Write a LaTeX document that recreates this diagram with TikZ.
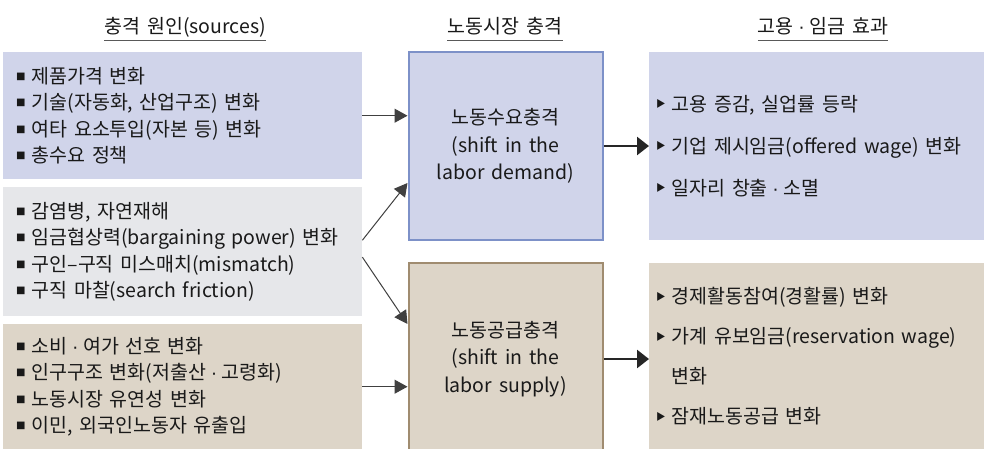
\documentclass[tikz,border=0pt]{standalone}
\usepackage{fontspec}
\setmainfont{Noto Sans CJK KR}[WordSpace=1.6]
\newfontfamily\latfont{Liberation Sans}
\usetikzlibrary{arrows.meta}
\definecolor{lav}{RGB}{208,212,234}
\definecolor{gry}{RGB}{230,231,234}
\definecolor{bge}{RGB}{221,213,200}
\definecolor{bbord}{RGB}{125,145,200}
\definecolor{brbord}{RGB}{160,140,112}
\definecolor{txt}{RGB}{25,25,25}
\newcommand\sqb{\raisebox{3pt}{\fontsize{9.5}{9.5}\selectfont ■}\hspace{6pt}}
\newcommand\trb{\raisebox{3.5pt}{\fontsize{9.5}{9.5}\selectfont ▶}\hspace{6pt}}
\newcommand\mdt{\hspace{4.5pt}{\latfont ·}\hspace{4.5pt}}
\begin{document}
\begin{tikzpicture}[x=1pt,y=-1pt,
  every node/.style={text=txt},
  hdr/.style={font=\fontsize{19.5}{22}\selectfont, inner sep=0pt, anchor=base},
  uline/.style={draw=black!65, line width=1pt},
  srcbox/.style={anchor=north west, minimum width=359pt, text width=333pt, inner xsep=13pt, inner ysep=0pt, align=left, font=\fontsize{19.5}{26.3}\selectfont},
  shockbox/.style={anchor=north west, minimum width=194pt, line width=2pt, align=center, font=\fontsize{19.5}{27.5}\selectfont},
  effbox/.style={anchor=north west, minimum width=335pt, text width=321pt, inner xsep=7pt, inner ysep=0pt, align=left},
  thinarr/.style={-{Triangle[length=13pt,width=14pt]}, draw=black!75, line width=1pt},
  thickarr/.style={-{Triangle[length=12pt,width=18pt]}, draw=black!85, line width=2.6pt},
]
\useasboundingbox (0,0) rectangle (984,448);
\fill[white] (0,0) rectangle (984,448);

% headers
\node[hdr] (h1) at (185,33) {충격 원인(sources)};
\node[hdr] (h2) at (505,33) {노동시장 충격};
\node[hdr] (h3) at (823,33) {고용\mdt 임금 효과};
\foreach \h in {h1,h2,h3}
  \draw[uline] ([yshift=-7pt]\h.base west) -- ([yshift=-7pt]\h.base east);

% sources
\node[srcbox, fill=lav, minimum height=127pt] (s1) at (3,52)
  {\sqb 제품가격 변화\\ \sqb 기술(자동화, 산업구조) 변화\\ \sqb 여타 요소투입(자본 등) 변화\\ \sqb 총수요 정책};
\node[srcbox, fill=gry, minimum height=129pt] (s2) at (3,187)
  {\sqb 감염병, 자연재해\\ \sqb 임금협상력(bargaining power) 변화\\ \sqb 구인–구직 미스매치(mismatch)\\ \sqb 구직 마찰(search friction)};
\node[srcbox, fill=bge, minimum height=125pt] (s3) at (3,324)
  {\sqb 소비\mdt 여가 선호 변화\\ \sqb 인구구조 변화(저출산\mdt 고령화)\\ \sqb 노동시장 유연성 변화\\ \sqb 이민, 외국인노동자 유출입};

% shocks
\node[shockbox, fill=lav, draw=bbord, minimum height=188pt] (d1) at (407.5,51)
  {노동수요충격\\(shift in the\\labor demand)};
\node[shockbox, fill=bge, draw=brbord, minimum height=192pt] (d2) at (407.5,262)
  {노동공급충격\\(shift in the\\labor supply)};

% effects
\node[effbox, fill=lav, minimum height=188pt, font=\fontsize{19.5}{42}\selectfont] (r1) at (649,52)
  {\trb 고용 증감, 실업률 등락\\ \trb 기업 제시임금(offered wage) 변화\\ \trb 일자리 창출\mdt 소멸};
\node[effbox, fill=bge, minimum height=186pt, font=\fontsize{19.5}{40}\selectfont] (r2) at (649,263)
  {\trb 경제활동참여(경활률) 변화\\ \trb 가계 유보임금(reservation wage)\\ \hphantom{\trb}변화\\ \trb 잠재노동공급 변화};

% connectors
\draw[thinarr] (s1.east) -- (s1.east -| d1.west);
\draw[thinarr] ([yshift=11.5pt]s2.east) -- ([yshift=-37pt]d1.west);
\draw[thinarr] ([yshift=-5.5pt]s2.east) -- ([yshift=35pt]d2.west);
\draw[thinarr] (s3.east) -- (s3.east -| d2.west);
\draw[thickarr] (d1.east) -- (d1.east -| r1.west);
\draw[thickarr] (d2.east) -- (d2.east -| r2.west);
\end{tikzpicture}
\end{document}
